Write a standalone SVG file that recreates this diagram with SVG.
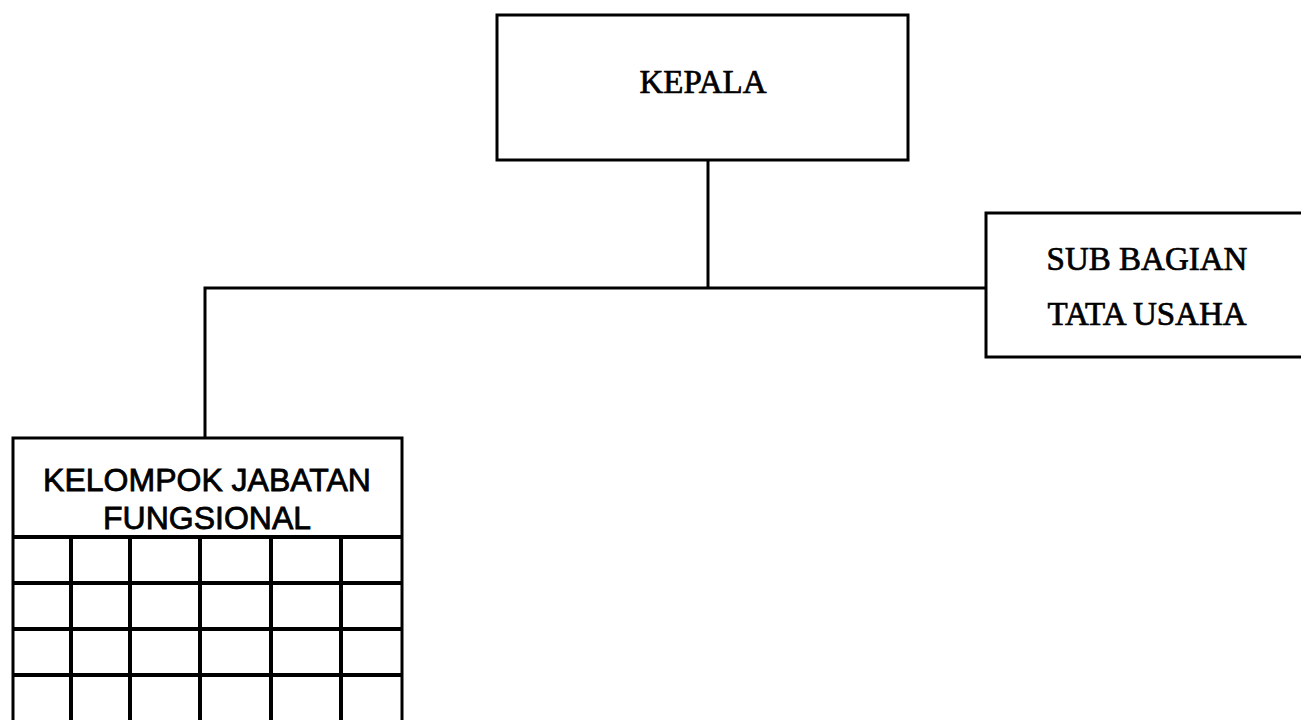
<svg xmlns="http://www.w3.org/2000/svg" width="1301" height="720" viewBox="0 0 1301 720">
<style>
.box{fill:#fff;stroke:#000;stroke-width:3}
.ln{fill:none;stroke:#000;stroke-width:3}
.grid{fill:none;stroke:#000;stroke-width:4}
.serif{font-family:"Liberation Serif","Times New Roman",serif;font-size:33px;fill:#000;stroke:#000;stroke-width:0.7;text-anchor:middle}
.sans{font-family:"Liberation Sans",Arial,sans-serif;font-size:32px;fill:#000;stroke:#000;stroke-width:0.8;text-anchor:middle}
</style>
<rect width="1301" height="720" fill="#fff"/>
<g id="connectors">
<line class="ln" x1="708" y1="160" x2="708" y2="288"/>
<polyline class="ln" points="205,437 205,288 986,288"/>
</g>
<g id="kepala">
<rect class="box" x="497" y="15" width="411" height="145"/>
<text class="serif" x="703" y="93">KEPALA</text>
</g>
<g id="sub-bagian">
<rect class="box" x="986" y="213" width="330" height="144"/>
<text class="serif" x="1147" y="270">SUB BAGIAN</text>
<text class="serif" x="1147" y="325">TATA USAHA</text>
</g>
<g id="kelompok">
<rect class="box" x="13" y="438" width="389" height="290"/>
<text class="sans" x="207" y="491">KELOMPOK JABATAN</text>
<text class="sans" x="207" y="529">FUNGSIONAL</text>
<g class="grid">
<line x1="13" y1="537" x2="402" y2="537"/>
<line x1="13" y1="583" x2="402" y2="583"/>
<line x1="13" y1="629" x2="402" y2="629"/>
<line x1="13" y1="675" x2="402" y2="675"/>
<line x1="71" y1="537" x2="71" y2="720"/>
<line x1="130" y1="537" x2="130" y2="720"/>
<line x1="200" y1="537" x2="200" y2="720"/>
<line x1="271" y1="537" x2="271" y2="720"/>
<line x1="341" y1="537" x2="341" y2="720"/>
</g>
</g>
</svg>
